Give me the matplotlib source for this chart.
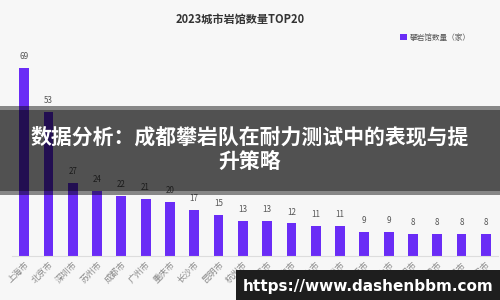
import matplotlib
matplotlib.use('Agg')
import matplotlib.pyplot as plt
from matplotlib.patches import Rectangle

plt.rcParams['font.family'] = ['Noto Sans CJK SC', 'DejaVu Sans']

cities = ['上海市', '北京市', '深圳市', '苏州市', '成都市', '广州市', '重庆市', '长沙市',
          '昆明市', '杭州市', '武汉市', '南宁市', '佛山市', '济南市', '东莞市', '中山市',
          '厦门市', '天津市', '无锡市', '西安市']
counts = [69, 53, 27, 24, 22, 21, 20, 17, 15, 13, 13, 12, 11, 11, 9, 9, 8, 8, 8, 8]

bg = '#f7f7f7'
purple = '#6a2cf6'

fig = plt.figure(figsize=(5, 3), dpi=100, facecolor=bg)
ax = fig.add_axes([12 / 500, 44 / 300, 486 / 500, 196 / 300], facecolor=bg)

x = range(len(cities))
bars = ax.bar(x, counts, width=0.4, color=purple, label='攀岩馆数量（家）')
for xi, v in zip(x, counts):
    ax.text(xi, v + 2.5, str(v), ha='center', va='bottom', fontsize=5.8, color='#555555')

ax.set_xlim(-0.5, 19.5)
ax.set_ylim(0, 72)
ax.set_xticks(list(x))
ax.set_xticklabels(cities, rotation=45, ha='right', rotation_mode='anchor',
                   fontsize=6.3, color='#888888')
ax.tick_params(axis='x', length=0, pad=3)
ax.set_yticks([])
for s in ['top', 'right', 'left']:
    ax.spines[s].set_visible(False)
ax.spines['bottom'].set_color('#dddddd')
ax.spines['bottom'].set_linewidth(0.8)

fig.text(0.48, 1 - 20 / 300, '2023城市岩馆数量TOP20', ha='center', va='center',
         fontsize=8, fontweight='bold', color='#333333')
fig.legend(handles=[bars], loc='center right', bbox_to_anchor=(0.955, 1 - 38 / 300),
           frameon=False, fontsize=5.5, handlelength=0.8, handleheight=0.8,
           handletextpad=0.4, labelcolor='#555555')

# dark overlay band with headline
fig.patches.append(Rectangle((0, 1 - 195 / 300), 1, 89 / 300, transform=fig.transFigure,
                             facecolor='black', alpha=0.45, zorder=5))
fig.patches.append(Rectangle((0, 1 - 191 / 300), 1, 81 / 300, transform=fig.transFigure,
                             facecolor='black', alpha=0.4, zorder=5))
fig.text(0.5, 1 - 137 / 300, '数据分析：成都攀岩队在耐力测试中的表现与提', ha='center',
         va='center', fontsize=15, fontweight='bold', color='white', zorder=6)
fig.text(0.5, 1 - 161 / 300, '升策略', ha='center', va='center', fontsize=15,
         fontweight='bold', color='white', zorder=6)

# url banner
fig.patches.append(Rectangle((236 / 500, 0), 264 / 500, 30 / 300, transform=fig.transFigure,
                             facecolor='#1e1e1e', zorder=5))
fig.text(368 / 500, 14 / 300, 'https://www.dashenbbm.com', ha='center', va='center',
         fontsize=11, fontweight='bold', color='white', family='DejaVu Sans', zorder=6)

fig.savefig('out.png', dpi=100, facecolor=bg)
